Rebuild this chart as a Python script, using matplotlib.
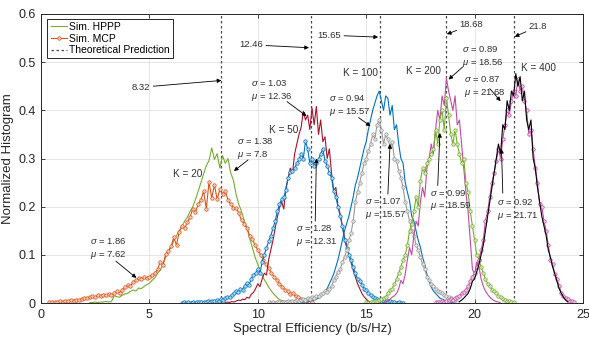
import numpy as np
import matplotlib
matplotlib.use("Agg")
import matplotlib.pyplot as plt
from matplotlib.colors import to_rgb

plt.rcParams['font.family'] = ['Liberation Sans', 'DejaVu Sans']
plt.rcParams['mathtext.fontset'] = 'custom'
plt.rcParams['mathtext.it'] = 'Liberation Sans:italic'
plt.rcParams['mathtext.rm'] = 'Liberation Sans'

# ---------------- data (bin ranges + normalized histogram values) ----------------
k20_hppp_range = (2.25, 11.75)
k20_hppp = [0.001, 0.001, 0.002, 0.001, 0.002, 0.002,
            0.003, 0.002, 0.003, 0.015, 0.013, 0.012, 0.016, 0.019,
            0.020, 0.024, 0.027, 0.025, 0.031, 0.030, 0.034, 0.038,
            0.041, 0.047, 0.052, 0.062, 0.068, 0.080, 0.095, 0.108,
            0.115, 0.130, 0.140, 0.150, 0.158, 0.170, 0.178, 0.190,
            0.200, 0.215, 0.232, 0.250, 0.268, 0.285, 0.296, 0.322,
            0.298, 0.310, 0.280, 0.306, 0.290, 0.300, 0.270, 0.255,
            0.225, 0.205, 0.190, 0.170, 0.155, 0.135, 0.115, 0.095,
            0.080, 0.065, 0.052, 0.043, 0.033, 0.025, 0.018, 0.012,
            0.007, 0.005, 0.003, 0.002, 0.001, 0.001, 0.000]

k20_mcp_range = (0.375, 12.5)
k20_mcp = [0.003, 0.002, 0.003, 0.002, 0.004,
           0.003, 0.005, 0.004, 0.006, 0.005, 0.007, 0.006, 0.009,
           0.011, 0.010, 0.013, 0.015, 0.012, 0.016, 0.014, 0.017,
           0.016, 0.018, 0.017, 0.020, 0.024, 0.021, 0.028, 0.033,
           0.037, 0.035, 0.044, 0.047, 0.052, 0.050, 0.054, 0.052,
           0.055, 0.058, 0.062, 0.070, 0.085, 0.078, 0.102, 0.108,
           0.118, 0.136, 0.120, 0.148, 0.160, 0.155, 0.168, 0.178,
           0.196, 0.188, 0.205, 0.214, 0.232, 0.196, 0.251, 0.218,
           0.245, 0.215, 0.236, 0.226, 0.232, 0.214, 0.205, 0.198,
           0.198, 0.186, 0.172, 0.165, 0.156, 0.140, 0.132, 0.120,
           0.110, 0.100, 0.090, 0.080, 0.072, 0.062, 0.055, 0.048,
           0.040, 0.034, 0.028, 0.024, 0.018, 0.020, 0.014, 0.012,
           0.009, 0.007, 0.005, 0.003, 0.002]

k50_hppp_range = (8.5, 15.3)
k50_hppp = [0.001, 0.002, 0.001, 0.003, 0.002,
            0.004, 0.006, 0.005, 0.008, 0.007, 0.012, 0.010, 0.018, 0.022, 0.030,
            0.040, 0.034, 0.050, 0.062, 0.058, 0.090, 0.110, 0.130, 0.155, 0.178,
            0.198, 0.210, 0.195, 0.240, 0.260, 0.280, 0.270, 0.310, 0.330, 0.350,
            0.365, 0.398, 0.380, 0.390, 0.360, 0.405, 0.370, 0.408, 0.350, 0.380,
            0.335, 0.345, 0.300, 0.320, 0.270, 0.233, 0.240, 0.200, 0.185, 0.160,
            0.137, 0.120, 0.100, 0.085, 0.068, 0.054, 0.040, 0.030, 0.020, 0.013,
            0.008, 0.004, 0.002, 0.000]

k50_mcp_range = (6.5, 16.7)
k50_mcp = [0.001, 0.002, 0.001, 0.002, 0.001,
           0.002, 0.001, 0.002, 0.003, 0.002, 0.003, 0.002, 0.004, 0.003, 0.005,
           0.004, 0.006, 0.005, 0.008, 0.007, 0.010, 0.013, 0.012, 0.016, 0.020,
           0.024, 0.022, 0.030, 0.028, 0.036, 0.042, 0.038, 0.050, 0.058, 0.062,
           0.070, 0.062, 0.085, 0.100, 0.115, 0.128, 0.140, 0.155, 0.170, 0.190,
           0.205, 0.215, 0.220, 0.235, 0.260, 0.272, 0.275, 0.280, 0.290, 0.298,
           0.310, 0.300, 0.336, 0.320, 0.290, 0.300, 0.285, 0.290, 0.298, 0.310,
           0.320, 0.295, 0.285, 0.270, 0.260, 0.232, 0.220, 0.200, 0.180, 0.160,
           0.130, 0.115, 0.100, 0.090, 0.075, 0.062, 0.050, 0.045, 0.038, 0.030,
           0.027, 0.020, 0.016, 0.012, 0.010, 0.008, 0.007, 0.005, 0.004, 0.005,
           0.003, 0.004, 0.002, 0.003, 0.001, 0.002, 0.001, 0.000]

k100_hppp_range = (12.0, 19.0)
k100_hppp = [0.001, 0.002, 0.003, 0.002, 0.004, 0.005, 0.006, 0.008, 0.010, 0.013,
             0.020, 0.025, 0.030, 0.040, 0.050, 0.060, 0.075, 0.090, 0.110, 0.130,
             0.150, 0.165, 0.180, 0.200, 0.220, 0.245, 0.260, 0.280, 0.300, 0.320,
             0.335, 0.360, 0.380, 0.400, 0.415, 0.430, 0.440, 0.420, 0.400, 0.430,
             0.425, 0.390, 0.410, 0.360, 0.370, 0.330, 0.300, 0.290, 0.250, 0.230,
             0.212, 0.180, 0.170, 0.150, 0.130, 0.116, 0.095, 0.080, 0.060, 0.045,
             0.033, 0.025, 0.020, 0.015, 0.010, 0.008, 0.006, 0.004, 0.003, 0.002,
             0.001]

k100_mcp_range = (10.5, 19.2)
k100_mcp = [0.002, 0.001, 0.002, 0.001, 0.002,
            0.002, 0.003, 0.002, 0.003, 0.004, 0.003, 0.005, 0.004, 0.006, 0.005,
            0.006, 0.008, 0.007, 0.010, 0.009, 0.012, 0.011, 0.015, 0.014, 0.018,
            0.020, 0.025, 0.022, 0.030, 0.035, 0.047, 0.055, 0.065, 0.070, 0.085,
            0.095, 0.110, 0.130, 0.145, 0.170, 0.210, 0.230, 0.250, 0.270, 0.290,
            0.300, 0.315, 0.330, 0.350, 0.340, 0.370, 0.380, 0.360, 0.330, 0.350,
            0.340, 0.325, 0.335, 0.300, 0.295, 0.274, 0.260, 0.240, 0.210, 0.190,
            0.171, 0.150, 0.140, 0.120, 0.110, 0.095, 0.080, 0.070, 0.055, 0.048,
            0.040, 0.035, 0.030, 0.025, 0.022, 0.020, 0.017, 0.014, 0.012, 0.010,
            0.007, 0.005, 0.003]

k200_hppp_range = (15.8, 21.2)
k200_hppp = [0.001, 0.002,
             0.006, 0.008, 0.012, 0.015, 0.020, 0.030, 0.047, 0.040, 0.060, 0.090,
             0.115, 0.100, 0.140, 0.170, 0.160, 0.210, 0.240, 0.220, 0.280, 0.300,
             0.330, 0.310, 0.360, 0.400, 0.380, 0.430, 0.410, 0.466, 0.440, 0.420,
             0.400, 0.430, 0.370, 0.380, 0.330, 0.280, 0.230, 0.190, 0.130, 0.070,
             0.060, 0.085, 0.075, 0.050, 0.035, 0.025, 0.018, 0.012, 0.008, 0.005,
             0.003, 0.002, 0.000]

k200_mcp_range = (15.0, 21.8)
k200_mcp = [0.002, 0.001, 0.003, 0.002, 0.004, 0.005, 0.006, 0.008, 0.010, 0.013,
            0.020, 0.027, 0.030, 0.040, 0.050, 0.062, 0.075, 0.090, 0.100, 0.120,
            0.150, 0.165, 0.190, 0.220, 0.200, 0.254, 0.280, 0.270, 0.290, 0.300,
            0.310, 0.320, 0.360, 0.330, 0.380, 0.400, 0.360, 0.425, 0.390, 0.350,
            0.330, 0.360, 0.330, 0.310, 0.290, 0.300, 0.250, 0.230, 0.190, 0.160,
            0.130, 0.100, 0.090, 0.075, 0.062, 0.050, 0.040, 0.035, 0.028, 0.024,
            0.020, 0.015, 0.012, 0.009, 0.007, 0.005, 0.004, 0.003, 0.002]

k400_hppp_range = (19.3, 24.3)
k400_hppp = [0.003, 0.006, 0.010, 0.015, 0.020, 0.030, 0.045,
             0.050, 0.065, 0.080, 0.100, 0.120, 0.150, 0.180, 0.210, 0.240, 0.270,
             0.300, 0.330, 0.310, 0.370, 0.360, 0.420, 0.400, 0.440, 0.430, 0.476,
             0.450, 0.470, 0.420, 0.440, 0.380, 0.360, 0.380, 0.300, 0.280, 0.240,
             0.210, 0.180, 0.160, 0.140, 0.110, 0.095, 0.075, 0.060, 0.045, 0.030,
             0.020, 0.012, 0.006, 0.002]

k400_mcp_range = (18.2, 24.6)
k400_mcp = [0.002, 0.003, 0.002, 0.004, 0.003, 0.005, 0.006, 0.008,
            0.007, 0.010, 0.012, 0.015, 0.020, 0.022, 0.028, 0.035, 0.045, 0.055,
            0.062, 0.075, 0.090, 0.110, 0.130, 0.171, 0.190, 0.220, 0.250, 0.270,
            0.295, 0.320, 0.300, 0.340, 0.370, 0.400, 0.390, 0.420, 0.440, 0.430,
            0.466, 0.440, 0.450, 0.420, 0.400, 0.350, 0.360, 0.320, 0.280, 0.250,
            0.206, 0.200, 0.170, 0.150, 0.120, 0.089, 0.080, 0.060, 0.050, 0.035,
            0.020, 0.015, 0.010, 0.008, 0.005, 0.004, 0.002]

theory_values = [8.32, 12.46, 15.65, 18.68, 21.8]

# ---------------- styles ----------------
C_BLUE = '#0072BD'
C_ORANGE = '#D95319'
C_GREEN = '#77AC30'
C_RED = '#A2142F'
C_GRAY = '#999999'
C_MAG = '#C04BA5'
C_BLACK = '#000000'

fig = plt.figure(figsize=(5.89, 3.39), dpi=100)
ax = fig.add_axes([41/589, 36/339, 542/589, 289/339])


def bins(rng, vals):
    return np.linspace(rng[0], rng[1], len(vals))


def light(c, f=0.7):
    r, g, b = to_rgb(c)
    return (r + (1 - r) * f, g + (1 - g) * f, b + (1 - b) * f)


def hppp(rng, vals, color, label=None, z=2):
    return ax.plot(bins(rng, vals), vals, '-', color=color, lw=0.8, label=label,
                   zorder=z)[0]


def mcp(rng, vals, color, label=None, z=2):
    return ax.plot(bins(rng, vals), vals, '-o', color=color, lw=0.8, ms=2.5,
                   mew=0.5, mfc=light(color), label=label, zorder=z)[0]


h1 = hppp(k20_hppp_range, k20_hppp, C_GREEN)
m1 = mcp(k20_mcp_range, k20_mcp, C_ORANGE)
hppp(k50_hppp_range, k50_hppp, C_RED)
mcp(k50_mcp_range, k50_mcp, C_BLUE)
hppp(k100_hppp_range, k100_hppp, C_BLUE)
mcp(k100_mcp_range, k100_mcp, C_GRAY)
hppp(k200_hppp_range, k200_hppp, C_MAG)
mcp(k200_mcp_range, k200_mcp, C_GREEN)
mcp(k400_mcp_range, k400_mcp, C_MAG)
hppp(k400_hppp_range, k400_hppp, C_BLACK, z=2.1)

th = None
for v in theory_values:
    th = ax.axvline(v, color='#4a4a4a', lw=0.9, ls=(0, (2.0, 2.0)), zorder=1)

# ---------------- axes formatting ----------------
ax.set_xlim(0, 25)
ax.set_ylim(0, 0.6)
ax.set_xticks([0, 5, 10, 15, 20, 25])
ax.set_yticks([0, 0.1, 0.2, 0.3, 0.4, 0.5, 0.6])
ax.set_yticklabels(['0', '0.1', '0.2', '0.3', '0.4', '0.5', '0.6'])
ax.grid(True, color='#e2e2e2', lw=0.6)
ax.set_axisbelow(True)
ax.tick_params(direction='in', top=True, right=True, labelsize=9,
               colors='#262626', length=3, width=0.6, pad=4)
for s in ax.spines.values():
    s.set_color('#262626')
    s.set_linewidth(0.7)
ax.set_xlabel('Spectral Efficiency (b/s/Hz)', fontsize=9.5, color='#262626', labelpad=2)
ax.set_ylabel('Normalized Histogram', fontsize=9.5, color='#262626', labelpad=3)

leg = ax.legend([h1, m1, th], ['Sim. HPPP', 'Sim. MCP', 'Theoretical Prediction'],
                loc='upper left', bbox_to_anchor=(0.008, 0.99), fontsize=7.5,
                frameon=True, fancybox=False, edgecolor='#262626', framealpha=1,
                handlelength=1.6, handletextpad=0.2, borderpad=0.3,
                labelspacing=0.15, borderaxespad=0.2)
leg.get_frame().set_linewidth(0.7)

# ---------------- annotations ----------------
AFS = 6.8
TC = '#303030'
arrow = dict(arrowstyle='-|>', color='black', lw=0.6, mutation_scale=6,
             shrinkA=0, shrinkB=0)

# theoretical values
ax.annotate('8.32', xy=(8.32, 0.462), xytext=(5.05, 0.448), fontsize=AFS, color=TC,
            ha='right', va='center', arrowprops=arrow)
ax.annotate('12.46', xy=(12.36, 0.53), xytext=(10.25, 0.536), fontsize=AFS, color=TC,
            ha='right', va='center', arrowprops=arrow)
ax.annotate('15.65', xy=(15.55, 0.552), xytext=(13.85, 0.556), fontsize=AFS, color=TC,
            ha='right', va='center', arrowprops=arrow)
ax.annotate('18.68', xy=(18.72, 0.558), xytext=(19.3, 0.578), fontsize=AFS, color=TC,
            ha='left', va='center', arrowprops=arrow)
ax.annotate('21.8', xy=(21.85, 0.553), xytext=(22.5, 0.574), fontsize=AFS, color=TC,
            ha='left', va='center', arrowprops=arrow)


def sm(sig, mu):
    return '$\\sigma$ = ' + sig + '\n$\\mu$ = ' + mu


stats = [
    (sm('1.86', '7.62'), (4.4, 0.052), (2.28, 0.113), (3.45, 0.087)),
    (sm('1.38', '7.8'), (8.9, 0.274), (9.05, 0.32), (9.55, 0.297)),
    (sm('1.03', '12.36'), (12.25, 0.388), (9.7, 0.442), (11.35, 0.418)),
    (sm('1.28', '12.31'), (12.7, 0.30), (11.75, 0.14), (12.65, 0.17)),
    (sm('0.94', '15.57'), (15.2, 0.367), (13.3, 0.41), (14.65, 0.385)),
    (sm('1.07', '15.57'), (16.1, 0.33), (14.95, 0.196), (16.0, 0.226)),
    (sm('0.89', '18.56'), (18.8, 0.464), (19.4, 0.512), (19.45, 0.49)),
    (sm('0.99', '18.59'), (18.4, 0.353), (17.95, 0.214), (18.3, 0.244)),
    (sm('0.87', '21.68'), (21.2, 0.419), (19.5, 0.45), (20.7, 0.445)),
    (sm('0.92', '21.71'), (21.24, 0.32), (21.05, 0.194), (21.3, 0.228)),
]
for txt, tip, tpos, tail in stats:
    ax.text(tpos[0], tpos[1], txt, fontsize=AFS, color=TC, ha='left', va='center',
            linespacing=1.35)
    ax.annotate('', xy=tip, xytext=tail, arrowprops=arrow)

for txt, x, y in [('K = 20', 6.75, 0.268), ('K = 50', 11.2, 0.36),
                  ('K = 100', 14.75, 0.478), ('K = 200', 17.65, 0.482),
                  ('K = 400', 22.95, 0.488)]:
    ax.text(x, y, txt, fontsize=7.2, color=TC, ha='center', va='center')

fig.savefig('out.png', dpi=100)
